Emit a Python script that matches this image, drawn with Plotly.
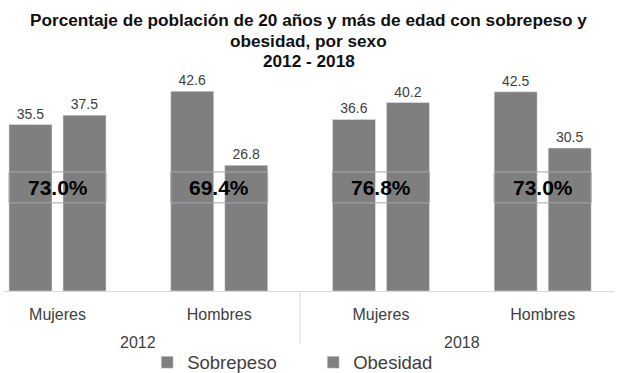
import plotly.graph_objects as go

categories = ["Mujeres", "Hombres", "Mujeres", "Hombres"]
years = ["2012", "2018"]
sobrepeso = [35.5, 42.6, 36.6, 42.5]
obesidad = [37.5, 26.8, 40.2, 30.5]
totals = [round(a + b, 1) for a, b in zip(sobrepeso, obesidad)]
title_lines = ["Porcentaje de población de 20 años y más de edad con sobrepeso y",
               "obesidad, por sexo", "2012 - 2018"]

FONT = "Liberation Sans, Arial, sans-serif"
BAR = "#7f7f7f"
TXT = "#404040"

xs = list(range(len(categories)))
fig = go.Figure()
fig.add_trace(go.Bar(x=xs, y=sobrepeso, name="Sobrepeso", marker_color=BAR,
                     text=[f"{v:.1f}" for v in sobrepeso], textposition="outside",
                     textfont=dict(size=14, color=TXT, family=FONT), cliponaxis=False))
fig.add_trace(go.Bar(x=xs, y=obesidad, name="Obesidad", marker_color=BAR,
                     text=[f"{v:.1f}" for v in obesidad], textposition="outside",
                     textfont=dict(size=14, color=TXT, family=FONT), cliponaxis=False))

bargap = 0.332
half = (1 - bargap) / 2 * (1 - 0.102)
for i, t in enumerate(totals):
    fig.add_shape(type="rect", x0=i - half, x1=i + half, y0=18.8, y1=25.4,
                  xref="x", yref="y", line=dict(color="#a8a8a8", width=1))
    fig.add_annotation(x=i, y=22.0, xref="x", yref="y", text=f"<b>{t:.1f}%</b>",
                       showarrow=False, font=dict(size=21, color="#000000", family=FONT))

for j, yr in enumerate(years):
    fig.add_annotation(x=2 * j + 0.5, y=-0.242, xref="x", yref="paper", text=yr,
                       yanchor="middle", showarrow=False,
                       font=dict(size=16, color=TXT, family=FONT))
fig.add_shape(type="line", x0=1.5, x1=1.5, y0=0, y1=-0.29, xref="x", yref="paper",
              line=dict(color="#d9d9d9", width=1))

for k, line in enumerate(title_lines):
    fig.add_annotation(x=0.5, y=1.282 - k * 0.0948, xref="paper", yref="paper",
                       xanchor="center", yanchor="middle", showarrow=False,
                       text=f"<b>{line}</b>",
                       font=dict(size=17.2, color="#111111", family=FONT))

fig.update_layout(
    width=617, height=373,
    margin=dict(l=3, r=3, t=80, b=82, autoexpand=False),
    paper_bgcolor="white", plot_bgcolor="white",
    barmode="group", bargap=bargap, bargroupgap=0.204,
    xaxis=dict(range=[-0.337, 3.441], tickvals=xs, ticktext=categories,
               showgrid=False, zeroline=False, showline=True, linecolor="#d9d9d9",
               ticks="", ticklabelstandoff=9,
               tickfont=dict(size=16, color=TXT, family=FONT)),
    yaxis=dict(range=[0, 45], visible=False),
    showlegend=True,
    legend=dict(orientation="h", x=0.236, xanchor="left", y=-0.34, yanchor="middle",
                font=dict(size=18.5, color=TXT, family=FONT),
                entrywidth=121, entrywidthmode="pixels", traceorder="normal"),
)
fig.write_html("out.html")
